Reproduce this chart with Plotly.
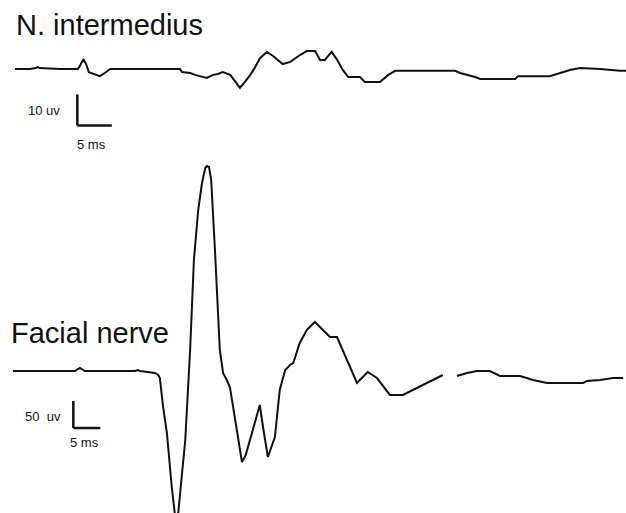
import plotly.graph_objects as go

# N. intermedius recording: time (ms), amplitude (uV)
ni_time = [0.0, 2.2, 3.0, 3.3, 3.6, 6.5, 9.1, 9.4, 9.9, 10.3, 10.7, 11.6, 12.3, 13.0, 13.8,
           23.9, 24.2, 25.4, 26.1, 27.8, 28.7, 29.4, 30.1, 31.2, 31.9, 32.6, 33.3, 34.1,
           34.8, 35.5, 36.5, 37.4, 38.8, 39.9, 41.3, 42.3, 43.5, 44.2, 44.9, 45.9, 46.7,
           47.5, 48.3, 50.0, 50.7, 52.9, 54.1, 55.1, 63.8, 64.5, 66.7, 67.4, 72.5, 72.9,
           77.5, 79.0, 80.4, 81.9, 84.8, 87.7, 88.6]
ni_uv = [0.0, 0.0, 0.3, 0.6, 0.3, 0.0, 0.0, 1.0, 3.2, 1.6, -1.0, -1.6, -2.3, -1.3, 0.0,
         0.0, -1.0, -1.3, -1.9, -2.9, -1.9, -1.6, -1.0, -1.9, -3.9, -6.1, -4.2, -1.9,
         0.6, 3.5, 5.5, 4.2, 1.6, 2.3, 4.5, 5.8, 5.8, 2.9, 2.9, 5.5, 2.9,
         -0.3, -2.6, -2.6, -4.2, -4.2, -1.9, -0.6, -0.6, -1.3, -2.6, -3.2, -3.2, -2.3,
         -2.3, -1.3, -0.3, 0.3, 0.0, -0.6, -0.6]

# Facial nerve recording: time (ms), amplitude (uV); None = gap in trace
fn_time = [0.0, 5.0, 11.5, 12.0, 12.4, 13.0, 13.3, 22.6, 23.1, 23.5, 25.4, 26.3, 26.9, 27.2,
           27.8, 28.5, 29.4, 30.2, 30.6, 31.9, 32.8, 33.5, 34.3, 35.0, 35.6, 35.9, 36.3,
           36.7, 37.4, 38.3, 38.9, 39.6, 40.2, 41.5, 42.4, 43.1, 43.9, 44.8, 45.7, 46.3,
           47.2, 48.5, 49.4, 50.4, 51.3, 51.9, 53.1, 54.4, 55.9, 57.4, 58.7, 60.0,
           61.9, 63.7, 64.6, 65.7, 67.4, 69.8, 72.2, 74.8, 77.8, 79.6, None, 82.2, 84.1,
           85.9, 88.3, 90.2, 93.9, 96.3, 98.9, 105.6, 106.3, 108.7, 111.1, 113.0]
fn_uv = [0, 0, 0, 3.7, 5.6, 1.9, 0, 0, 1.9, 0, -1.9, -3.7, -7.4, -13,
         -66.7, -114.8, -214.8, -285.2, -263.0, -127.8, 38.9, 205.6, 298.1, 348.1, 375.9, 379.6, 377.8,
         353.7, 224.1, 38.9, -3.7, -16.7, -31.5, -114.8, -168.5, -155.6, -127.8, -94.4, -63.0, -103.7,
         -159.3, -122.2, -35.2, 1.9, 11.1, 14.8, 51.9, 75.9, 90.7, 75.9, 63.0, 63.0,
         20.4, -22.2, -13.0, -1.9, -13.0, -44.4, -44.4, -31.5, -16.7, -7.4, None, -9.3, -3.7,
         0, 0, -9.3, -9.3, -16.7, -22.2, -22.2, -18.5, -16.7, -13.0, -13.0]

# Scale bars: (length in uV, length in ms)
ni_scale_uv, ni_scale_ms = 10, 5
fn_scale_uv, fn_scale_ms = 50, 5

titles = ["N. intermedius", "Facial nerve"]
ni_scale_labels = ["10\u00a0uv", "5 ms"]
fn_scale_labels = ["50\u00a0\u00a0uv", "5 ms"]

W, H = 626, 513
ink = "#111111"

fig = go.Figure()
fig.add_trace(go.Scatter(x=ni_time, y=ni_uv, mode="lines", xaxis="x", yaxis="y",
                         line=dict(color=ink, width=2), connectgaps=False, hoverinfo="skip"))
fig.add_trace(go.Scatter(x=fn_time, y=fn_uv, mode="lines", xaxis="x2", yaxis="y2",
                         line=dict(color=ink, width=2), connectgaps=False, hoverinfo="skip"))

# scale bar anchors
ni_bar_t, ni_bar_v = 9.03, -18.2
fn_bar_t, fn_bar_v = 11.17, -105.6

shapes = [
    dict(type="line", xref="x", yref="y", x0=ni_bar_t, x1=ni_bar_t, y0=ni_bar_v, y1=ni_bar_v + ni_scale_uv,
         line=dict(color=ink, width=2.5)),
    dict(type="line", xref="x", yref="y", x0=ni_bar_t, x1=ni_bar_t + ni_scale_ms, y0=ni_bar_v, y1=ni_bar_v,
         line=dict(color=ink, width=2.5)),
    dict(type="line", xref="x2", yref="y2", x0=fn_bar_t, x1=fn_bar_t, y0=fn_bar_v, y1=fn_bar_v + fn_scale_uv,
         line=dict(color=ink, width=2.5)),
    dict(type="line", xref="x2", yref="y2", x0=fn_bar_t, x1=fn_bar_t + fn_scale_ms, y0=fn_bar_v, y1=fn_bar_v,
         line=dict(color=ink, width=2.5)),
]

def ann(text, px, py, size):
    return dict(text=text, xref="paper", yref="paper", x=px / W, y=1 - py / H,
                xanchor="left", yanchor="middle", showarrow=False,
                font=dict(family="Liberation Sans, Arial, sans-serif", size=size, color=ink))

annotations = [
    ann(titles[0], 14, 25, 29),
    ann(titles[1], 9, 333, 29),
    ann(ni_scale_labels[0], 26, 111, 13),
    ann(ni_scale_labels[1], 75, 144, 13),
    ann(fn_scale_labels[0], 23, 416, 13),
    ann(fn_scale_labels[1], 68, 442, 13),
]

axis_off = dict(visible=False, showgrid=False, zeroline=False, fixedrange=True)
fig.update_layout(
    width=W, height=H, autosize=False,
    margin=dict(l=0, r=0, t=0, b=0, pad=0),
    paper_bgcolor="white", plot_bgcolor="white",
    showlegend=False,
    xaxis=dict(range=[-2.174, 88.55], domain=[0, 1], **axis_off),
    yaxis=dict(range=[-143.23, 22.26], domain=[0, 1], **axis_off),
    xaxis2=dict(range=[-2.407, 113.52], domain=[0, 1], overlaying="x", **axis_off),
    yaxis2=dict(range=[-262.96, 687.04], domain=[0, 1], overlaying="y", **axis_off),
    shapes=shapes,
    annotations=annotations,
)

fig.write_html("out.html")
